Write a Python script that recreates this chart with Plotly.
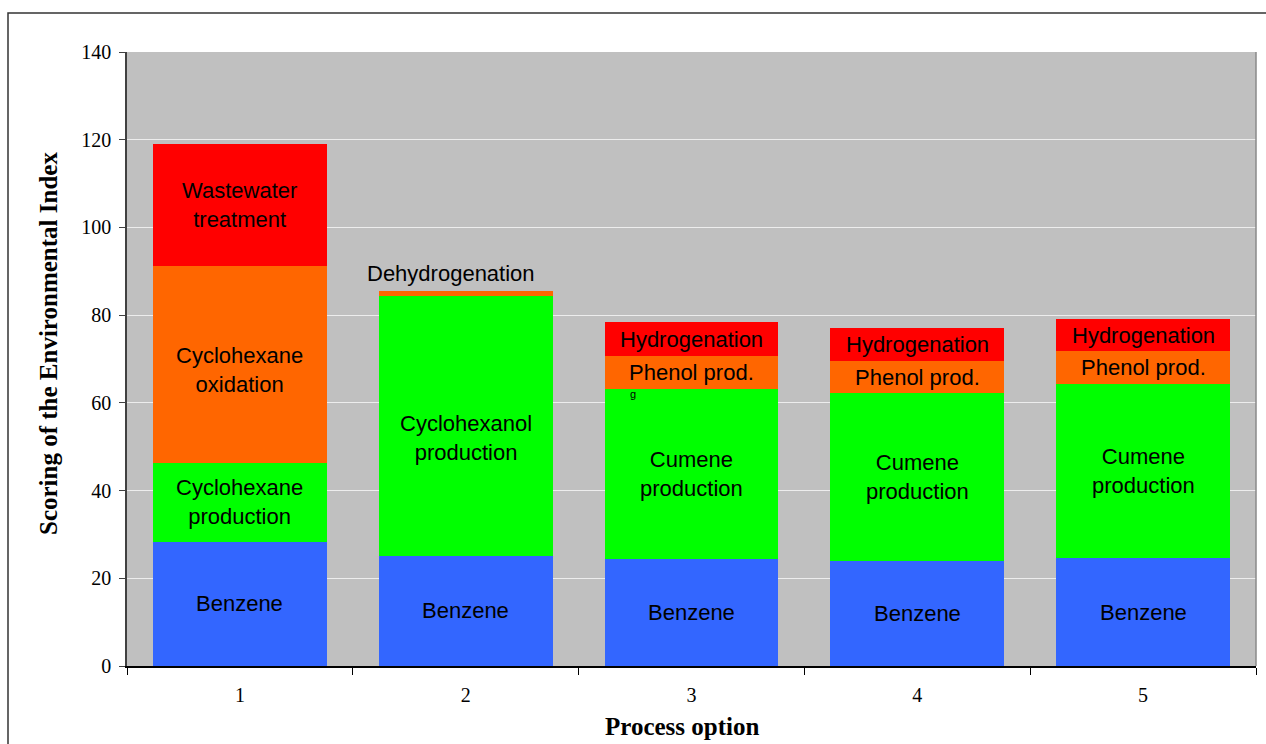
import plotly.graph_objects as go

# Process options on the x axis
options = ["1", "2", "3", "4", "5"]

# Stacked contributions (bottom to top) to the environmental index score
benzene = [28.3, 25.1, 24.4, 23.9, 24.6]
production = [18.0, 59.3, 38.8, 38.3, 39.7]
intermediate = [44.9, 1.1, 7.5, 7.3, 7.5]
final_step = [27.8, 0.0, 7.7, 7.6, 7.3]

layer_values = [benzene, production, intermediate, final_step]
layer_names = ["Benzene", "Production", "Intermediate step", "Final step"]
layer_colors = ["#3366FF", "#00FF00", "#FF6600", "#FF0000"]

# Segment labels per option, same order as the layers
segment_labels = [
    ["Benzene", "Cyclohexane<br>production", "Cyclohexane<br>oxidation", "Wastewater<br>treatment"],
    ["Benzene", "Cyclohexanol<br>production", "Dehydrogenation", ""],
    ["Benzene", "Cumene<br>production", "Phenol prod.", "Hydrogenation"],
    ["Benzene", "Cumene<br>production", "Phenol prod.", "Hydrogenation"],
    ["Benzene", "Cumene<br>production", "Phenol prod.", "Hydrogenation"],
]

y_ticks = [0, 20, 40, 60, 80, 100, 120, 140]

label_font = dict(family="Liberation Sans, Arial, sans-serif", size=22, color="black")
serif = "Liberation Serif, Times New Roman, serif"

fig = go.Figure()
for vals, name, color in zip(layer_values, layer_names, layer_colors):
    fig.add_trace(go.Bar(
        x=options, y=vals, name=name,
        marker=dict(color=color, line=dict(width=0)),
        hoverinfo="x+y+name",
    ))

annotations = []
for i in range(len(options)):
    base = 0.0
    for j, vals in enumerate(layer_values):
        v = vals[i]
        text = segment_labels[i][j]
        if text:
            if i == 1 and j == 2:
                # thin segment: label sits above the bar
                annotations.append(dict(
                    x=i, y=base + v, text=text, showarrow=False,
                    xref="x", yref="y", yanchor="middle",
                    yshift=18, xshift=-15, font=label_font))
            else:
                shift = 0
                if i == 0 and j == 2:
                    shift = -6
                if i == 1 and j == 1:
                    shift = -12
                annotations.append(dict(
                    x=i, y=base + v / 2, text=text, showarrow=False,
                    xref="x", yref="y", yanchor="middle",
                    yshift=shift, font=label_font))
        base += v

# stray glyph just under the top of the third option's production segment
annotations.append(dict(
    x=2, y=benzene[2] + production[2], text="g", showarrow=False,
    xref="x", yref="y", yanchor="middle", xshift=-59, yshift=-5,
    font=dict(family="Liberation Sans, Arial, sans-serif", size=11, color="black")))

# axis titles
annotations.append(dict(
    x=0.4916, y=-0.098, xref="paper", yref="paper", text="<b>Process option</b>",
    showarrow=False, xanchor="center", yanchor="middle",
    font=dict(family=serif, size=25, color="black")))
annotations.append(dict(
    x=-0.07, y=0.526, xref="paper", yref="paper",
    text="<b>Scoring of the Environmental Index</b>", textangle=-90,
    showarrow=False, xanchor="center", yanchor="middle",
    font=dict(family=serif, size=25, color="black")))

shapes = [
    # outer chart frame
    dict(type="rect", xref="paper", yref="paper", x0=-0.1054, y0=-0.3, x1=1.2, y1=1.0635,
         line=dict(color="#333333", width=1.5), fillcolor="rgba(0,0,0,0)", layer="above"),
    # plot area right border
    dict(type="line", xref="paper", yref="paper", x0=1, y0=0, x1=1, y1=1,
         line=dict(color="#8a8a8a", width=1.5), layer="above"),
]

fig.update_layout(
    barmode="stack",
    bargap=0.23,
    width=1266, height=744,
    margin=dict(l=127, r=10, t=52, b=78, pad=0),
    paper_bgcolor="white",
    plot_bgcolor="#C0C0C0",
    showlegend=False,
    annotations=annotations,
    shapes=shapes,
    xaxis=dict(
        type="category",
        range=[-0.5, 4.5],
        showline=True, linecolor="black", linewidth=1.5,
        ticks="outside", ticklen=7, tickwidth=1, tickcolor="black",
        tickson="boundaries",
        showgrid=False,
        tickfont=dict(family=serif, size=20, color="black"),
        ticklabelstandoff=10,
    ),
    yaxis=dict(
        range=[0, 140],
        tickvals=y_ticks,
        showline=True, linecolor="#404040", linewidth=1.5,
        ticks="outside", ticklen=6, tickwidth=1, tickcolor="#404040",
        showgrid=True, gridcolor="#EDEDED", gridwidth=1,
        zeroline=False,
        tickfont=dict(family=serif, size=20, color="black"),
        ticklabelstandoff=4,
    ),
)

fig.write_html("out.html")
